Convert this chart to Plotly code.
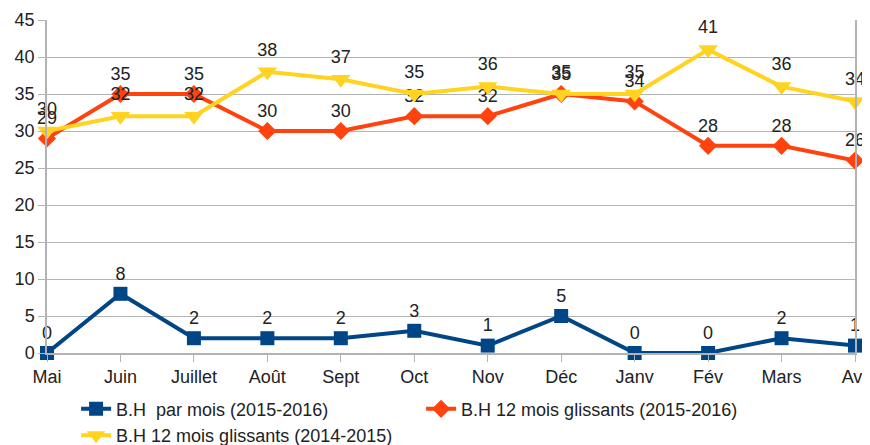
import plotly.graph_objects as go

months = ["Mai", "Juin", "Juillet", "Août", "Sept", "Oct", "Nov", "Déc", "Janv", "Fév", "Mars", "Avr"]
bh_mois = [0, 8, 2, 2, 2, 3, 1, 5, 0, 0, 2, 1]
bh_12_1516 = [29, 35, 35, 30, 30, 32, 32, 35, 34, 28, 28, 26]
bh_12_1415 = [30, 32, 32, 38, 37, 35, 36, 35, 35, 41, 36, 34]

names = ["B.H  par mois (2015-2016)", "B.H 12 mois glissants (2015-2016)", "B.H 12 mois glissants (2014-2015)"]
colors = ["#004586", "#ff420e", "#ffd320"]
symbols = ["square", "diamond", "triangle-down"]
sizes = [14, 14, 17]

fig = go.Figure()
for vals, nm, c, s, sz in zip([bh_mois, bh_12_1516, bh_12_1415], names, colors, symbols, sizes):
    fig.add_trace(go.Scatter(
        x=months, y=vals, name=nm, mode="lines+markers+text",
        text=[str(v) for v in vals], textposition="top center",
        textfont=dict(size=18, color="#222222"),
        line=dict(color=c, width=4),
        marker=dict(symbol=s, size=sz, color=c),
        cliponaxis=False,
    ))

# page body has an 8px default margin, so the figure is sized/offset to compensate
fig.update_layout(
    width=862, height=437,
    margin=dict(l=39, r=15, t=12, b=92, autoexpand=False),
    paper_bgcolor="white", plot_bgcolor="white",
    font=dict(family="Liberation Sans, Arial, sans-serif", size=18, color="#222222"),
    showlegend=True,
    legend=dict(orientation="h", x=0.036, y=-0.113, xanchor="left", yanchor="top",
                entrywidth=300, entrywidthmode="pixels",
                font=dict(size=18), traceorder="normal", itemwidth=30,
                tracegroupgap=0),
)
fig.update_xaxes(type="category", range=[0, 11], showgrid=False, automargin=False,
                 ticks="outside", ticklen=7, tickcolor="#b3b3b3",
                 showline=True, linecolor="#b3b3b3", linewidth=1.5, mirror=False,
                 tickfont=dict(size=18))
fig.update_yaxes(range=[0, 45], dtick=5, showgrid=True, gridcolor="#b3b3b3", gridwidth=1,
                 automargin=False,
                 ticks="outside", ticklen=7, tickcolor="#b3b3b3",
                 showline=True, linecolor="#b3b3b3", linewidth=1.5, mirror=True,
                 zeroline=False, tickfont=dict(size=18))

fig.write_html("out.html")
